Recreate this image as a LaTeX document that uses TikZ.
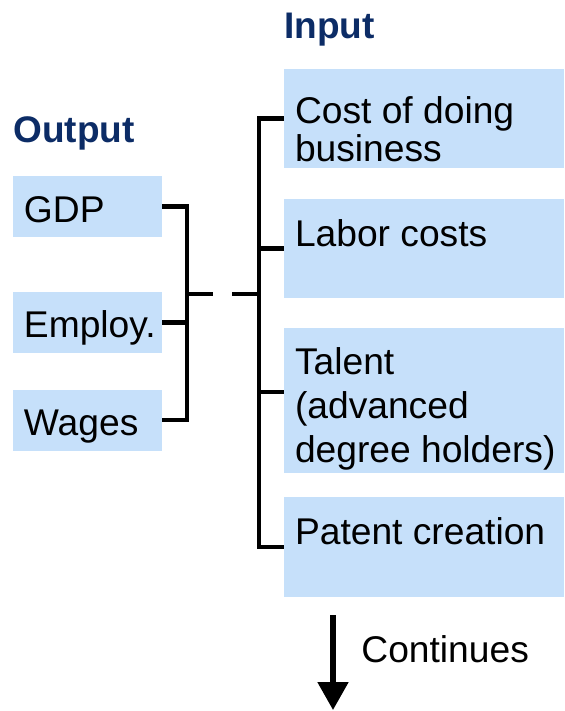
\documentclass[tikz,border=0pt]{standalone}
\usepackage{fontspec}
\setmainfont{Liberation Sans}
\usetikzlibrary{arrows.meta}
\definecolor{boxblue}{RGB}{198,224,250}
\definecolor{titleblue}{RGB}{12,44,102}
\tikzstyle{outbox} = [rectangle, fill=boxblue, inner sep=0pt, minimum width=74.5pt, minimum height=30.5pt]
\tikzstyle{inbox} = [rectangle, fill=boxblue, inner sep=0pt, minimum width=140pt]
\tikzstyle{boxtext} = [anchor=base west, inner sep=0pt, align=left, font=\fontsize{18.6}{19.25}\selectfont]
\tikzstyle{heading} = [anchor=base west, inner sep=0pt, text=titleblue, font=\fontsize{18.5}{20}\selectfont\bfseries]
\tikzstyle{bracket} = [line width=2.4pt]
\tikzstyle{connector} = [line width=2.6pt, -{Triangle[width=15pt,length=14pt]}]

\begin{document}
\begin{tikzpicture}[x=0.5pt, y=-0.5pt]
        \useasboundingbox (0,0) rectangle (564,711);
        \node (output) [heading] at (13,143) {Output};
        \node (input) [heading] at (284,39) {Input};
        \node (gdp) [outbox, minimum height=30.5pt] at (87.5,206.5) {};
        \node (employ) [outbox, below of = gdp, yshift = -29.55pt] {};
        \node (wages) [outbox, below of = employ, yshift = -20.3pt] {};
        \node (cost) [inbox, minimum height=49.5pt] at (424,118.5) {};
        \node (labor) [inbox, minimum height=49.5pt, below of = cost, yshift = -36.55pt] {};
        \node (talent) [inbox, minimum height=72.5pt, below of = labor, yshift = -47.55pt] {};
        \node (patent) [inbox, minimum height=50pt, below of = talent, yshift = -44.8pt] {};
        % base of a multi-line node = baseline of its last line
        \node (gdp-text) [boxtext] at ([xshift=5.5pt, yshift=-23.5pt]gdp.north west) {GDP};
        \node (employ-text) [boxtext] at ([xshift=5.5pt, yshift=-23pt]employ.north west) {Employ.};
        \node (wages-text) [boxtext] at ([xshift=5.5pt, yshift=-23pt]wages.north west) {Wages};
        \node (cost-text) [boxtext] at ([xshift=5.5pt, yshift=-46.5pt]cost.north west) {Cost of doing\\business};
        \node (labor-text) [boxtext] at ([xshift=5.5pt, yshift=-24pt]labor.north west) {Labor costs};
        \node (talent-text) [boxtext] at ([xshift=5.5pt, yshift=-67.5pt]talent.north west) {Talent\\[2.75pt](advanced\\[2.75pt]degree holders)};
        \node (patent-text) [boxtext] at ([xshift=5.5pt, yshift=-24pt]patent.north west) {Patent creation};
        \node (continues) [boxtext] at (361,662) {Continues};
        \coordinate (ljoin) at (187,294);
        \coordinate (rjoin) at (259,294);
        \coordinate (cont-top) at (333,615);
        \coordinate (cont-end) at (333,710);
        \draw [bracket] (gdp.east) -| (ljoin) |- (wages.east);
        \draw [bracket] (employ.east) -- (employ.east -| ljoin);
        \draw [bracket, dash pattern=on 13pt off 9.5pt] (ljoin) -- (rjoin);
        \draw [bracket] (cost.west) -| (rjoin) |- (patent.west);
        \draw [bracket] (labor.west) -- (labor.west -| rjoin);
        \draw [bracket] ([yshift=4.25pt]talent.west) -- ([yshift=4.25pt]talent.west -| rjoin);
        \draw [connector] (cont-top) -- (cont-end);
    \end{tikzpicture}
\end{document}
